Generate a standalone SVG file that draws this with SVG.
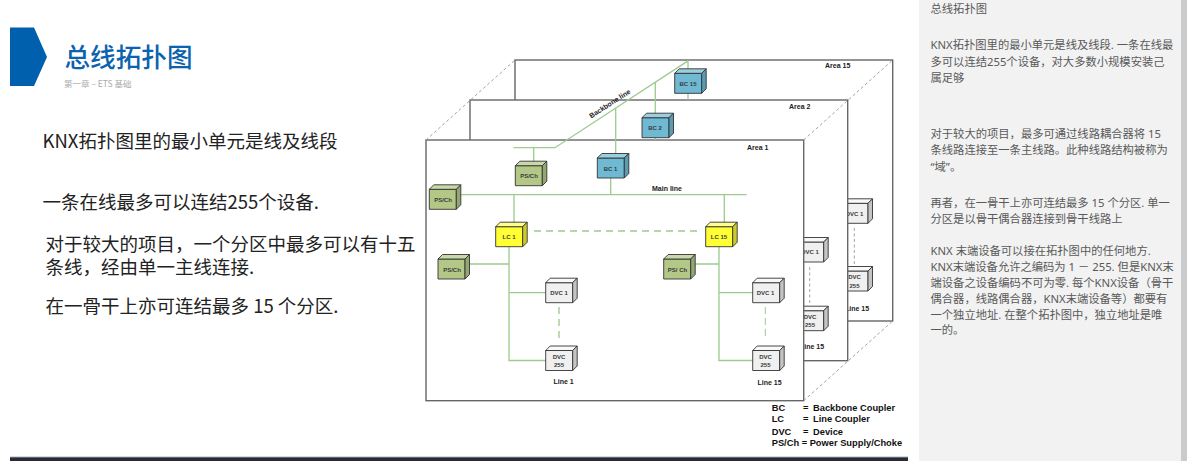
<svg xmlns="http://www.w3.org/2000/svg" width="1187" height="461" viewBox="0 0 1187 461">
<style>
text{font-family:"Liberation Sans",Arial,sans-serif}
.cjk{font-family:"Noto Sans CJK SC","Noto Sans",sans-serif}
.body{font-size:18.5px;fill:#222}
.side{font-size:11.3px;fill:#595959;font-family:"Noto Sans","Noto Sans CJK SC",sans-serif}
.area{fill:#fff;stroke:#666;stroke-width:1.4}
.g{fill:none;stroke:#9ccb8c;stroke-width:1.3}
.gd{fill:none;stroke:#b5d8a9;stroke-width:1.8;stroke-dasharray:7 5}
.gt{fill:none;stroke:#9ccb8c;stroke-width:1;stroke-dasharray:7 4}
.gray{fill:none;stroke:#999;stroke-width:.9;stroke-dasharray:3 2.5}
.lab{font-size:7px;font-weight:bold;fill:#222}
.n{font-size:6px;font-weight:bold;fill:#3a3a3a;text-anchor:middle}
.leg{font-size:9.3px;font-weight:bold;fill:#111}
.f,.t,.s{stroke:#333;stroke-width:.9;stroke-linejoin:round}
.f{fill:var(--f)}.t{fill:var(--t)}.s{fill:var(--s)}
.bc{--f:#6fb9d2;--t:#9acfe0;--s:#5a9db3}
.ps{--f:#b3c887;--t:#c9d8a8;--s:#93a770}
.lc{--f:#ffff33;--t:#ffff8c;--s:#cccc29}
.dv{--f:#f0f0f0;--t:#f8f8f8;--s:#c4c4c4}
</style>
<defs>
<g id="cube"><rect class="f" width="27" height="20"/><path class="t" d="M0 0L4.500-4.500H31.500L27 0Z"/><path class="s" d="M27 0L31.500-4.500V15.500L27 20Z"/></g>
</defs>
<rect x="919" y="0" width="262" height="461" fill="#f2f2f2"/>
<rect x="1181" y="0" width="6" height="461" fill="#c9cbcd"/>
<rect x="10" y="456.500" width="898" height="0.800" fill="#9dbbd8"/>
<rect x="10" y="457.300" width="898" height="3.700" fill="#2b2b33"/>
<g id="header">
<path d="M10 27.500H34L47 57L34 86H10Z" fill="#0060ae"/>
<text class="cjk" x="64.500" y="67" font-size="25.600" font-weight="500" fill="#0b62ae">总线拓扑图</text>
<text class="cjk" x="64" y="87" font-size="8.500" fill="#aaa">第一章 – ETS 基础</text>
</g>
<g id="body">
<text class="cjk body" x="42.500" y="147.500">KNX拓扑图里的最小单元是线及线段</text>
<text class="cjk body" x="42.500" y="208.500">一条在线最多可以连结255个设备.</text>
<text class="cjk body" x="45.500" y="250.500">对于较大的项目，一个分区中最多可以有十五</text>
<text class="cjk body" x="45.500" y="273.500">条线，经由单一主线连接.</text>
<text class="cjk body" x="45.500" y="312.500">在一骨干上亦可连结最多 15 个分区.</text>
</g>
<g id="notes">
<text class="side" x="930.500" y="13">总线拓扑图</text>
<text class="side" x="930.500" y="49">KNX拓扑图里的最小单元是线及线段. 一条在线最</text>
<text class="side" x="930.500" y="65.500">多可以连结255个设备，对大多数小规模安装己</text>
<text class="side" x="930.500" y="81.500">属足够</text>
<text class="side" x="930.500" y="138">对于较大的项目，最多可通过线路耦合器将 15</text>
<text class="side" x="930.500" y="154">条线路连接至一条主线路。此种线路结构被称为</text>
<text class="side" x="930.500" y="171">“域”。</text>
<text class="side" x="930.500" y="206.500">再者，在一骨干上亦可连结最多 15 个分区. 单一</text>
<text class="side" x="930.500" y="222.500">分区是以骨干偶合器连接到骨干线路上</text>
<text class="side" x="930.500" y="255">KNX 末端设备可以接在拓扑图中的任何地方.</text>
<text class="side" x="930.500" y="271">KNX末端设备允许之编码为 1 － 255. 但是KNX末</text>
<text class="side" x="930.500" y="287">端设备之设备编码不可为零. 每个KNX设备（骨干</text>
<text class="side" x="930.500" y="303">偶合器，线路偶合器，KNX末端设备等）都要有</text>
<text class="side" x="930.500" y="319">一个独立地址. 在整个拓扑图中，独立地址是唯</text>
<text class="side" x="930.500" y="334">一的。</text>
</g>
<g id="area15">
<rect class="area" x="515" y="60" width="377.700" height="261"/>
<text class="lab" x="825" y="68">Area 15</text>
<text class="lab" x="845" y="310.700">Line 15</text>
</g>
<g id="area15-dvc1" class="dv"><use href="#cube" x="841" y="203.300"/><text class="n" x="854.500" y="215.500">DVC 1</text></g>
<g id="area15-dvc255" class="dv"><use href="#cube" x="841" y="271"/><text class="n" x="854.500" y="279">DVC</text><text class="n" x="854.500" y="287.500">255</text></g>
<g id="area2">
<rect class="area" x="470" y="100" width="377.700" height="260.700"/>
<text class="lab" x="789" y="109">Area 2</text>
<text class="lab" x="800" y="349">Line 15</text>
</g>
<g id="area2-dvc1" class="dv"><use href="#cube" x="796.700" y="242"/><text class="n" x="810" y="254">DVC 1</text></g>
<g id="area2-dvc255" class="dv"><use href="#cube" x="796.700" y="310.700"/><text class="n" x="810" y="318.500">DVC</text><text class="n" x="810" y="327">255</text></g>
<g id="area1">
<rect class="area" x="426" y="140" width="377.700" height="260.700"/>
<text class="lab" x="747" y="150">Area 1</text>
</g>
<g id="connectors">
<path class="gray" d="M426 140L515 60M803.700 140L892.700 60M803.700 400.700L892.700 321"/>
<path class="gray" d="M809.700 267V305M854.300 228V266"/>
<path class="g" d="M513.500 147.700H555L688 60.900M688 60V69M688 93V100M655.300 82V118M655.300 138V140M615.700 108V158M533.700 147.700V166M610.700 178V194.700M456 194.700H746.700M514 194.700V227M724.300 194.700V227"/>
<path class="g" d="M509 247V360.500H546M465 264H509M509 292.700H546M719 247V360.500H753M690.700 264H719M719 292.700H753"/>
<path class="gd" d="M534 231H698M559 307V340"/>
<path class="gt" d="M765.300 307V340"/>
</g>
<g id="bc15" class="bc"><use href="#cube" x="674.700" y="73.300"/><text class="n" x="688" y="85.500">BC 15</text></g>
<g id="bc2" class="bc"><use href="#cube" x="642" y="117.700"/><text class="n" x="655" y="130">BC 2</text></g>
<g id="bc1" class="bc"><use href="#cube" x="597.300" y="158"/><text class="n" x="610.500" y="170.500">BC 1</text></g>
<g id="psch-top" class="ps"><use href="#cube" x="515.300" y="165.700"/><text class="n" x="529" y="178">PS/Ch</text></g>
<g id="psch-main" class="ps"><use href="#cube" x="429.300" y="189.300"/><text class="n" x="443" y="201.500">PS/Ch</text></g>
<g id="lc1" class="lc"><use href="#cube" x="495.700" y="226.700"/><text class="n" x="509" y="239">LC 1</text></g>
<g id="lc15" class="lc"><use href="#cube" x="705.700" y="226.700"/><text class="n" x="719" y="239">LC 15</text></g>
<g id="psch-line1" class="ps"><use href="#cube" x="438" y="259"/><text class="n" x="452" y="271.500">PS/Ch</text></g>
<g id="psch-line15" class="ps"><use href="#cube" x="663.700" y="259"/><text class="n" x="677.500" y="271.500">PS/ Ch</text></g>
<g id="dvc1-line1" class="dv"><use href="#cube" x="545.700" y="282.700"/><text class="n" x="559" y="295">DVC 1</text></g>
<g id="dvc255-line1" class="dv"><use href="#cube" x="545.700" y="350.500"/><text class="n" x="559" y="358.500">DVC</text><text class="n" x="559" y="367">255</text></g>
<g id="dvc1-line15" class="dv"><use href="#cube" x="752.700" y="282.700"/><text class="n" x="765.500" y="295">DVC 1</text></g>
<g id="dvc255-line15" class="dv"><use href="#cube" x="752.700" y="350.500"/><text class="n" x="765.500" y="358.500">DVC</text><text class="n" x="765.500" y="367">255</text></g>
<g id="labels">
<text class="lab" x="652" y="191">Main line</text>
<text class="lab" x="610" y="106" text-anchor="middle" transform="rotate(-33 610 104)">Backbone line</text>
<text class="lab" x="553.500" y="383.500">Line 1</text>
<text class="lab" x="757.500" y="384.500">Line 15</text>
</g>
<g id="legend">
<text class="leg" x="771.700" y="410.700">BC</text><text class="leg" x="803" y="410.700">=</text><text class="leg" x="813" y="410.700">Backbone Coupler</text>
<text class="leg" x="771.700" y="422">LC</text><text class="leg" x="803" y="422">=</text><text class="leg" x="813" y="422">Line Coupler</text>
<text class="leg" x="771.700" y="435">DVC</text><text class="leg" x="803" y="435">=</text><text class="leg" x="813" y="435">Device</text>
<text class="leg" x="771.700" y="445.700">PS/Ch = Power Supply/Choke</text>
</g>
</svg>
